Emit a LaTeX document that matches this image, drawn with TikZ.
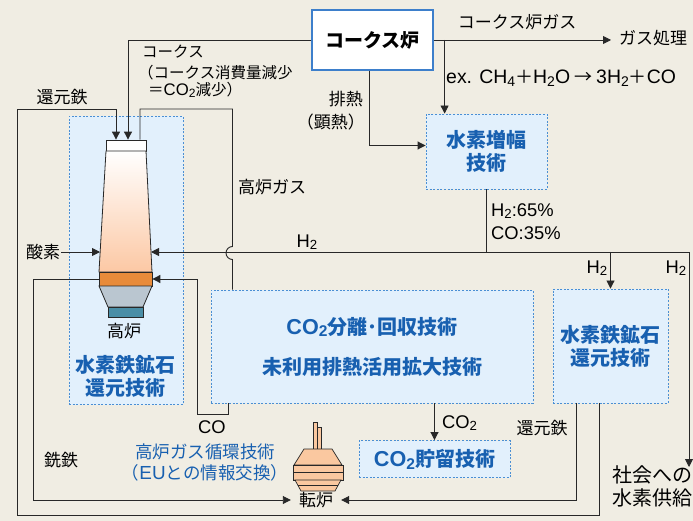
\documentclass[tikz,border=0pt]{standalone}
\usepackage{fontspec}
\setmainfont{Noto Sans CJK JP}
\newfontfamily\lat[Scale=1.08]{Liberation Sans}
\usetikzlibrary{arrows.meta,positioning}

\definecolor{bgbeige}{RGB}{240,237,227}
\definecolor{techfill}{RGB}{226,240,252}
\definecolor{techedge}{RGB}{74,143,212}
\definecolor{techblue}{RGB}{24,96,176}
\definecolor{cokeedge}{RGB}{61,127,203}
\definecolor{flowline}{RGB}{40,40,40}
\definecolor{peach}{RGB}{252,200,164}
\definecolor{tuyere}{RGB}{232,139,58}
\definecolor{hearth}{RGB}{186,198,208}
\definecolor{taphole}{RGB}{74,142,166}
\definecolor{convpeach}{RGB}{250,200,160}

% small lowered digit for chemical formulas
\newcommand{\subnum}[1]{\raisebox{-0.25ex}{\scalebox{0.72}{#1}}}

\begin{document}
\begin{tikzpicture}[x=1pt, y=-1pt,
    tech/.style={draw=techedge, fill=techfill, dash pattern=on 2pt off 1.6pt, line width=0.9pt,
                 inner sep=0pt, align=center, text=techblue,
                 font=\fontsize{20}{23}\selectfont\bfseries},
    lbl/.style={font=\fontsize{17}{23}\selectfont, inner sep=1pt},
    flow/.style={draw=flowline, line width=0.9pt},
    arr/.style={flow, -{Triangle[length=8pt,width=8pt]}}]
    \fill[bgbeige] (0,0) rectangle (693,521);
    \useasboundingbox (0,0) rectangle (693,521);
    \clip (0,0) rectangle (693,521);

    % technology boxes
    \node[tech, minimum width=114pt, minimum height=288pt] (bfbox) at (126,260.5) {};
    \node[tech, minimum width=121pt, minimum height=75pt] (h2amp) at (486.5,151.5) {水素増幅\\技術};
    \node[tech, minimum width=322pt, minimum height=113pt] (co2sep) at (372,346.5)
        {{\lat CO\subnum{2}}分離･回収技術\\[17pt]未利用排熱活用拡大技術};
    \node[tech, minimum width=115pt, minimum height=114pt] (h2red) at (610.5,346) {水素鉄鉱石\\還元技術};
    \node[tech, minimum width=151pt, minimum height=37pt] (co2store) at (434.5,459) {{\lat CO\subnum{2}}貯留技術};

    \node[draw=cokeedge, fill=white, line width=1.2pt, minimum width=121pt, minimum height=60pt,
          inner sep=0pt, font=\fontsize{19}{22}\selectfont\bfseries] (coke) at (372.5,40) {コークス炉};

    % blast furnace
    \node[draw=flowline, fill=white, line width=0.8pt, minimum width=40pt, minimum height=11pt, inner sep=0pt] (ftop) at (126,145.5) {};
    \shade[top color=white, bottom color=peach, draw=flowline, line width=0.8pt]
        (106,151) -- (146,151) -- (152,272) -- (99,272) -- cycle;
    \node[draw=flowline, fill=tuyere, line width=0.8pt, minimum width=53pt, minimum height=14pt, inner sep=0pt] (fband) at (125.5,279) {};
    \filldraw[fill=hearth, draw=flowline, line width=0.8pt] (99,286) -- (152,286) -- (143,307) -- (108,307) -- cycle;
    \filldraw[fill=taphole, draw=flowline, line width=0.8pt] (108,307) rectangle (143,317);
    \coordinate (fbodyL) at (100,252);
    \coordinate (fbodyR) at (151,252);

    % converter
    \begin{scope}[fill=convpeach, draw=flowline, line width=0.7pt]
        \filldraw (313,422) rectangle (317,450);
        \filldraw (317,427) rectangle (321,450);
        \filldraw (304,449) -- (332,449) -- (342,465) -- (294,465) -- cycle;
        \filldraw (293,465) rectangle (343,480);
        \draw (293,472) -- (343,472);
        \filldraw (295,480) -- (341,480) -- (335,491) -- (301,491) -- cycle;
        \draw (298,485) -- (338,485);
    \end{scope}
    \node[lbl, inner xsep=8pt] (conv) at (316,500) {転炉};

    % coke oven outputs
    \node[lbl, anchor=west, inner xsep=8pt] (gasproc) at (611,38) {ガス処理};
    \draw[arr] (coke.east) -- (coke.east -| gasproc.west);
    \node[lbl] at (517,22) {コークス炉ガス};
    \coordinate (gsplit) at ([xshift=11pt]coke.east);
    \draw[arr] (gsplit) -- (gsplit |- h2amp.north);
    \node[lbl, font=\fontsize{18}{23}\selectfont, anchor=west] at (445,78)
        {{\lat ex. CH\subnum{4}}＋{\lat H\subnum{2}O} → {\lat 3H\subnum{2}}＋{\lat CO}};
    \draw[arr] ([xshift=-3pt]coke.south) |- ([yshift=6pt]h2amp.west);
    \node[lbl, anchor=east] at (364,99) {排熱};
    \node[lbl, anchor=east] at (366,122) {（顕熱）};
    \draw[arr] (coke.west) -| ([xshift=2pt]ftop.north);
    \node[lbl, font=\fontsize{15.5}{19}\selectfont, anchor=west] at (141,52) {コークス};
    \node[lbl, font=\fontsize{15.5}{19}\selectfont, anchor=west] at (137,73) {（コークス消費量減少};
    \node[lbl, font=\fontsize{15.5}{19}\selectfont, anchor=west] at (147,90) {＝{\lat CO\subnum{2}}減少）};

    % top gas, jumping over the hydrogen line
    \coordinate (gtop) at (232.5,109);
    \coordinate (jump) at (232.5,253);
    \draw[flow] ([xshift=14pt]ftop.north) |- (gtop) -- ([yshift=6.5pt]jump)
        arc[start angle=90, end angle=270, radius=6.5pt] -- (jump |- co2sep.north);
    \node[lbl] at (272,187) {高炉ガス};

    % hydrogen distribution
    \draw[arr] (h2amp.south) |- (fbodyR);
    \coordinate (h2j) at (h2amp.south |- fbodyR);
    \coordinate (h2out) at (689,467);
    \draw[arr] (h2j) -| (h2out);
    \draw[arr] (h2j -| h2red.north) -- (h2red.north);
    \node[lbl] at (307,242) {\lat H\subnum{2}};
    \node[lbl, anchor=west] at (490,211) {\lat H\subnum{2}:65\%};
    \node[lbl, anchor=west] at (490,233) {\lat CO:35\%};
    \node[lbl] at (597,268) {\lat H\subnum{2}};
    \node[lbl] at (676,268) {\lat H\subnum{2}};
    \node[lbl, font=\fontsize{20}{23}\selectfont, anchor=north west, align=left] at (611,464) {社会への\\水素供給};

    % oxygen
    \node[lbl] (o2) at (43,252) {酸素};
    \draw[arr] (o2.east) -- (fbodyL);
    \node[lbl] at (124,331) {高炉};
    \node[lbl, text=techblue, font=\fontsize{20}{23}\selectfont\bfseries, align=center] at (125,376) {水素鉄鉱石\\還元技術};

    % reduced iron loops
    \coordinate (loopTL) at (17,109);
    \coordinate (loopBL) at (17,515);
    \draw[arr] ([xshift=-11.5pt]h2red.south) |- (loopBL) -- (loopTL) -| ([xshift=-10pt]ftop.north);
    \node[lbl] at (62,97) {還元鉄};
    \draw[arr] ([xshift=-34.5pt]h2red.south) |- (conv.east);
    \node[lbl] at (542,428) {還元鉄};

    % pig iron and CO recycling
    \draw[arr] (fband.west) -- ++(-65,0) |- (conv.west);
    \node[lbl] at (61,460) {銑鉄};
    \draw[arr] ([xshift=-144pt]co2sep.south) -- ++(0,11) -- ++(-31,0) |- (fband.east);
    \node[lbl] at (212,427) {\lat CO};
    \node[lbl, text=techblue, align=center, font=\fontsize{17.5}{21}\selectfont] at (205,462)
        {高炉ガス循環技術\\（{\lat EU}との情報交換）};

    % CO2 to storage
    \draw[arr] (co2sep.south -| co2store.north) -- (co2store.north);
    \node[lbl, anchor=west] at (441,423) {\lat CO\subnum{2}};
\end{tikzpicture}
\end{document}
